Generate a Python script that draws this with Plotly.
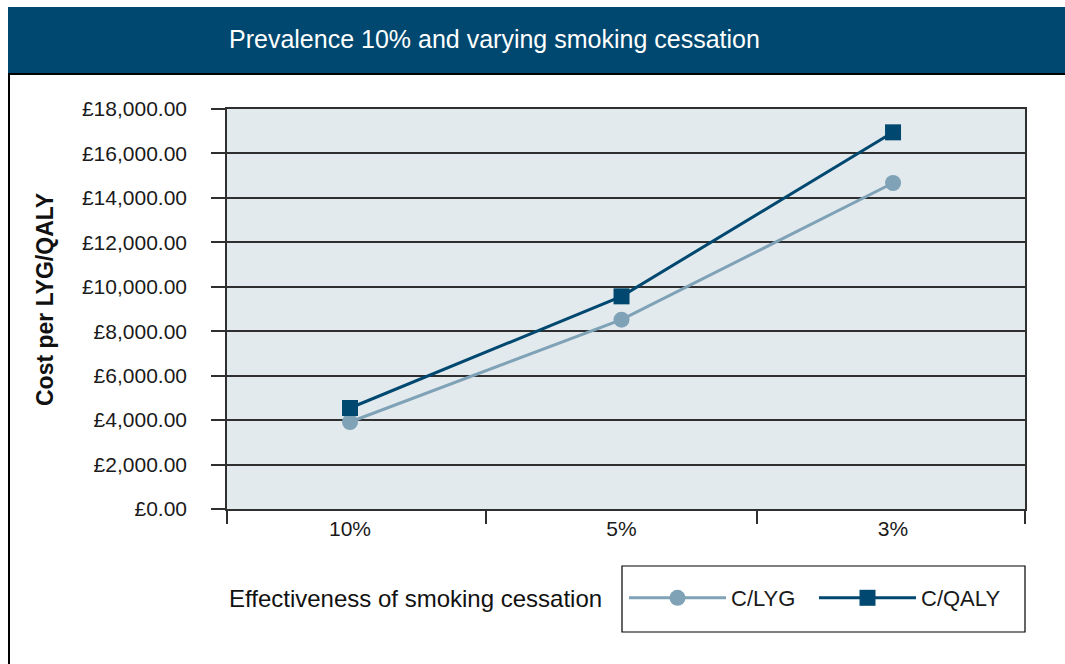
import plotly.graph_objects as go

# Effectiveness of smoking cessation (category order as shown)
categories = ["10%", "5%", "3%"]
c_lyg = [3915, 8520, 14670]
c_qaly = [4545, 9570, 16950]
y_ticks = [0, 2000, 4000, 6000, 8000, 10000, 12000, 14000, 16000, 18000]
y_ticktext = ["£{:,.2f}".format(v) for v in y_ticks]

NAVY = "#00486F"
STEEL = "#7FA2B7"
GRID = "#2F2F2F"
FONT = "Liberation Sans, Arial, sans-serif"

# plot area in pixels (used to place frame decorations in paper units)
W, H = 1065, 664
L, R, T, B = 227, 1025, 109, 509
pw, ph = R - L, B - T


def px(x):
    return (x - L) / pw


def py(y):
    return (B - y) / ph


xpos = list(range(len(categories)))
x_lo, x_hi = -0.453, 2.486

fig = go.Figure()
fig.add_trace(go.Scatter(
    x=xpos, y=c_lyg, name="C/LYG", mode="lines+markers",
    line=dict(color=STEEL, width=3),
    marker=dict(symbol="circle", size=16, color=STEEL),
))
fig.add_trace(go.Scatter(
    x=xpos, y=c_qaly, name="C/QALY", mode="lines+markers",
    line=dict(color=NAVY, width=3),
    marker=dict(symbol="square", size=16, color=NAVY),
))

fig.update_layout(
    width=W, height=H,
    margin=dict(l=L, r=W - R, t=T, b=H - B),
    paper_bgcolor="white",
    plot_bgcolor="#E3EAEE",
    font=dict(family=FONT, size=21, color="#1a1a1a"),
    showlegend=True,
    legend=dict(
        orientation="h", x=px(624), xanchor="left", y=py(598), yanchor="middle",
        bgcolor="rgba(0,0,0,0)", borderwidth=0,
        font=dict(size=22, color="#1a1a1a"),
        itemwidth=97, entrywidth=78, itemsizing="trace",
    ),
    xaxis=dict(
        range=[x_lo, x_hi],
        tickmode="array", tickvals=xpos, ticktext=categories,
        ticks="", showgrid=False, zeroline=False,
        showline=True, linecolor=GRID, linewidth=1.5, mirror=True,
        tickfont=dict(size=21),
        minor=dict(
            tickmode="array", tickvals=[x_lo, 0.5, 1.5, x_hi],
            ticks="outside", ticklen=13, tickwidth=1.5, tickcolor=GRID,
            showgrid=False,
        ),
    ),
    yaxis=dict(
        range=[0, 18000],
        tickmode="array", tickvals=y_ticks, ticktext=y_ticktext,
        ticks="outside", ticklen=14, tickwidth=1.5, tickcolor=GRID,
        showgrid=True, gridcolor=GRID, gridwidth=1.5,
        zeroline=False,
        showline=True, linecolor=GRID, linewidth=1.5, mirror=True,
        ticklabelstandoff=20,
        tickfont=dict(size=21),
    ),
    shapes=[
        # header banner
        dict(type="rect", xref="paper", yref="paper",
             x0=px(8), x1=px(1070), y0=py(74), y1=py(7),
             fillcolor=NAVY, line=dict(width=0), layer="above"),
        # panel frame: top and left edges
        dict(type="line", xref="paper", yref="paper",
             x0=px(8), x1=px(1070), y0=py(74), y1=py(74),
             line=dict(color="black", width=2)),
        dict(type="line", xref="paper", yref="paper",
             x0=px(9), x1=px(9), y0=py(74), y1=py(670),
             line=dict(color="black", width=2)),
        # legend box
        dict(type="rect", xref="paper", yref="paper",
             x0=px(622), x1=px(1025), y0=py(632), y1=py(566),
             line=dict(color="black", width=1.2), fillcolor="rgba(0,0,0,0)"),
    ],
    annotations=[
        dict(text="Prevalence 10% and varying smoking cessation",
             xref="paper", yref="paper", x=0, y=py(39),
             xanchor="left", yanchor="middle", showarrow=False,
             font=dict(size=25, color="white", family=FONT)),
        dict(text="<b>Cost per LYG/QALY</b>",
             xref="paper", yref="paper", x=px(45), y=py(300),
             xanchor="center", yanchor="middle", textangle=-90, showarrow=False,
             font=dict(size=23, color="#111111", family=FONT)),
        dict(text="Effectiveness of smoking cessation",
             xref="paper", yref="paper", x=0, y=py(598),
             xanchor="left", yanchor="middle", showarrow=False,
             font=dict(size=24, color="#111111", family=FONT)),
    ],
)

fig.write_html("out.html")
